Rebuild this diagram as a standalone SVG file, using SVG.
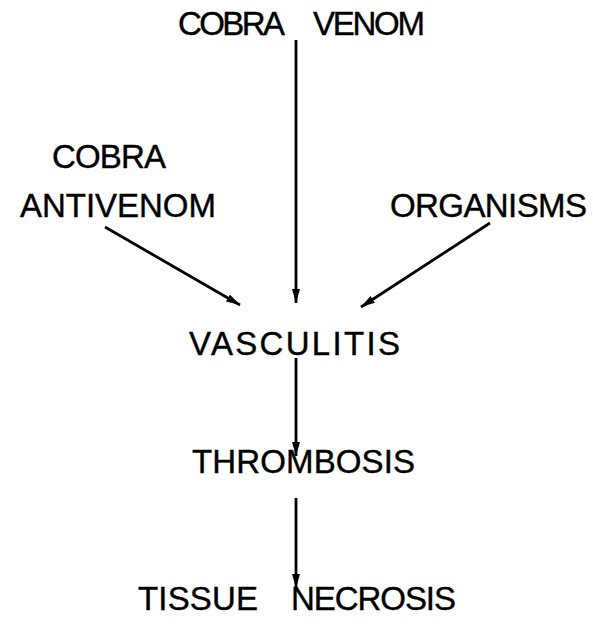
<svg xmlns="http://www.w3.org/2000/svg" width="593" height="628" viewBox="0 0 593 628">
<style>
text{font-family:"Liberation Sans",Arial,sans-serif;font-size:33px;fill:#000;stroke:#000;stroke-width:0.4;}
.c{stroke:#000;stroke-width:2.8;fill:none;}
</style>
<defs>
<marker id="ah" viewBox="0 0 14 8" refX="14" refY="4" markerWidth="14" markerHeight="8" markerUnits="userSpaceOnUse" orient="auto">
<path d="M0,0 L14,4 L0,8 Z" fill="#000"/>
</marker>
</defs>
<rect width="593" height="628" fill="#fff"/>
<g id="cobra-venom"><text x="178" y="35" textLength="107" lengthAdjust="spacing">COBRA</text><text x="313" y="35" textLength="112" lengthAdjust="spacing">VENOM</text></g>
<g id="cobra-antivenom"><text x="52" y="168" textLength="114" lengthAdjust="spacing">COBRA</text><text x="20" y="217" textLength="196" lengthAdjust="spacing">ANTIVENOM</text></g>
<g id="organisms"><text x="390" y="217" textLength="197" lengthAdjust="spacing">ORGANISMS</text></g>
<g id="vasculitis"><text x="189" y="355" textLength="211" lengthAdjust="spacing">VASCULITIS</text></g>
<g id="thrombosis"><text x="192" y="473" textLength="223" lengthAdjust="spacing">THROMBOSIS</text></g>
<g id="tissue-necrosis"><text x="138" y="610" textLength="120" lengthAdjust="spacing">TISSUE</text><text x="291" y="610" textLength="165" lengthAdjust="spacing">NECROSIS</text></g>
<g id="connectors">
<line class="c" x1="296" y1="40" x2="296" y2="303" marker-end="url(#ah)"/>
<line class="c" x1="105" y1="227" x2="240" y2="305" marker-end="url(#ah)"/>
<line class="c" x1="490" y1="223" x2="361" y2="307" marker-end="url(#ah)"/>
<line class="c" x1="296" y1="358" x2="296" y2="456" marker-end="url(#ah)"/>
<line class="c" x1="296" y1="498" x2="296" y2="588" marker-end="url(#ah)"/>
</g>
</svg>
